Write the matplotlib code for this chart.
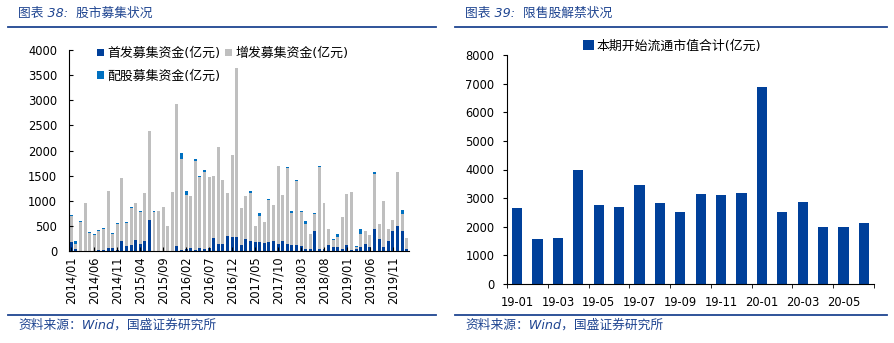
import numpy as np
import pandas as pd
import matplotlib
matplotlib.use('Agg')
import matplotlib.pyplot as plt
from matplotlib.lines import Line2D

plt.rcParams['font.family'] = ['DejaVu Sans', 'Noto Sans CJK SC']

# --- Data: left panel (monthly fund raising, 亿元) ---
months = pd.date_range('2014-01', periods=74, freq='MS').strftime('%Y/%m').tolist()
ipo = [185, 30, 0, 0, 0, 0, 25, 25, 65, 50, 25, 190, 105, 125, 225, 145, 190, 620,
       0, 0, 0, 0, 0, 105, 15, 30, 60, 25, 55, 40, 55, 265, 145, 145, 305, 270, 280,
       125, 240, 205, 170, 170, 150, 170, 190, 145, 200, 145, 120, 120, 100, 45, 40,
       400, 40, 30, 120, 80, 80, 30, 120, 20, 40, 85, 140, 85, 440, 240, 85, 200,
       400, 495, 400, 35]
seo = [515, 115, 580, 960, 365, 325, 380, 420, 1130, 295, 520, 1260, 460, 740, 735,
       640, 970, 1765, 785, 800, 880, 505, 1180, 2820, 1815, 1085, 1040, 1770, 1420,
       1530, 1410, 1225, 1930, 1270, 855, 1635, 3360, 735, 860, 955, 335, 535, 435,
       850, 730, 1540, 920, 1510, 630, 1280, 680, 495, 290, 340, 1635, 920, 320, 135,
       200, 655, 1015, 1155, 35, 255, 260, 235, 1090, 305, 910, 240, 215, 1075, 340,
       225]
rights = [15, 45, 20, 0, 15, 15, 15, 15, 0, 15, 15, 0, 15, 15, 0, 15, 0, 0,
          15, 0, 0, 0, 0, 0, 125, 85, 0, 40, 15, 40, 15, 0, 0, 0, 0, 0, 0,
          0, 0, 35, 0, 60, 0, 15, 0, 15, 0, 15, 45, 15, 15, 65, 0,
          15, 15, 0, 0, 20, 60, 0, 0, 0, 25, 100, 0, 0, 40, 0, 0, 0,
          0, 0, 75, 0]

# --- Data: right panel (lock-up expiry, 亿元) ---
unlock_months = ['19-01', '19-02', '19-03', '19-04', '19-05', '19-06', '19-07', '19-08',
                 '19-09', '19-10', '19-11', '19-12', '20-01', '20-02', '20-03', '20-04',
                 '20-05', '20-06']
unlock_value = [2650, 1580, 1620, 3980, 2760, 2690, 3450, 2830, 2520, 3140, 3110, 3180,
                6880, 2520, 2860, 2000, 2000, 2140]

DARK = '#00409A'
GREY = '#BFBFBF'
LIGHT = '#0070C0'
TITLE_C = '#1F4591'
TICK_FS = 8.3
LEG_FS = 9.3

W, H = 894, 343
fig = plt.figure(figsize=(W / 100, H / 100), dpi=100)

def px_axes(x0, y_top, x1, y_bot):
    return fig.add_axes([x0 / W, 1 - y_bot / H, (x1 - x0) / W, (y_bot - y_top) / H])

# --- Header / footer decorations ---
for x0, x1, title in [(8, 436, '图表 38:  股市募集状况'), (455, 887, '图表 39:  限售股解禁状况')]:
    fig.add_artist(Line2D([x0 / W, x1 / W], [1 - 27 / H] * 2, color=TITLE_C, lw=1.3))
    fig.add_artist(Line2D([x0 / W, x1 / W], [1 - 315 / H] * 2, color=TITLE_C, lw=1.3))
    fig.text((x0 + 10) / W, 1 - 13 / H, title, color=TITLE_C, fontsize=9.2,
             style='italic', va='center', ha='left')
    fig.text((x0 + 10) / W, 1 - 325 / H, '资料来源：Wind，国盛证券研究所', color=TITLE_C,
             fontsize=9.2, style='italic', va='center', ha='left')

# --- Left panel: stacked bars ---
ax = px_axes(69, 50, 409, 251)
x = np.arange(len(months))
ipo_a, seo_a, rights_a = np.array(ipo), np.array(seo), np.array(rights)
ax.bar(x, ipo_a, width=0.65, color=DARK, label='首发募集资金(亿元)')
ax.bar(x, rights_a, width=0.65, bottom=ipo_a + seo_a, color=LIGHT, label='配股募集资金(亿元)')
ax.bar(x, seo_a, width=0.65, bottom=ipo_a, color=GREY, label='增发募集资金(亿元)')
ax.set_xlim(-0.5, len(months) - 0.5)
ax.set_ylim(0, 4000)
ax.set_yticks(np.arange(0, 4001, 500))
ax.set_xticks(x[::5])
ax.set_xticklabels(months[::5], rotation=90, fontsize=TICK_FS)
ax.tick_params(axis='y', direction='in', length=3, labelsize=TICK_FS, pad=8.5)
ax.tick_params(axis='x', direction='in', length=3, pad=4)
for s in ['top', 'right']:
    ax.spines[s].set_visible(False)
ax.spines['left'].set_linewidth(0.8)
ax.spines['bottom'].set_linewidth(0.8)
h, l = ax.get_legend_handles_labels()
ax.legend(h, l, ncol=2, loc='upper left',
          bbox_to_anchor=(0.055, 1.06), frameon=False, fontsize=LEG_FS,
          handlelength=0.55, handleheight=0.55, handletextpad=0.25,
          columnspacing=0.4, labelspacing=0.75, borderpad=0.2)

# --- Right panel: lock-up expiry bars ---
ax2 = px_axes(507, 55, 874, 284)
x2 = np.arange(len(unlock_months))
ax2.bar(x2, unlock_value, width=0.5, color=DARK, label='本期开始流通市值合计(亿元)')
ax2.set_xlim(-0.5, len(unlock_months) - 0.5)
ax2.set_ylim(0, 8000)
ax2.set_yticks(np.arange(0, 8001, 1000))
ax2.set_xticks(x2[::2])
ax2.set_xticklabels(unlock_months[::2], fontsize=TICK_FS)
ax2.set_xticks(np.arange(-0.5, len(unlock_months), 2), minor=True)
ax2.tick_params(axis='x', which='major', length=0, pad=9)
ax2.tick_params(axis='x', which='minor', direction='out', length=3)
ax2.tick_params(axis='y', direction='out', length=3, labelsize=TICK_FS, pad=6)
for s in ['top', 'right']:
    ax2.spines[s].set_visible(False)
ax2.spines['left'].set_linewidth(0.8)
ax2.spines['bottom'].set_linewidth(0.8)
ax2.legend(loc='lower center', bbox_to_anchor=(0.45, 0.97), frameon=False, fontsize=LEG_FS,
           handlelength=0.8, handleheight=0.8, handletextpad=0.2, borderpad=0.2)

fig.savefig('out.png', dpi=100)
